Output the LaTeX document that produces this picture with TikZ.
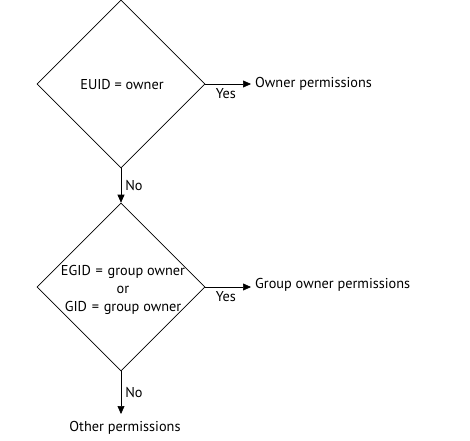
\documentclass[tikz,border=0pt]{standalone}
\usepackage{fontspec}
\setmainfont{PT Sans}
\usetikzlibrary{shapes.geometric,arrows.meta}
\begin{document}
\begin{tikzpicture}[x=1pt,y=1pt,
  decision/.style={draw,diamond,aspect=1,minimum width=168pt,minimum height=168pt,inner sep=0pt,line width=0.6pt},
  lbl/.style={font=\fontsize{14.3}{18}\selectfont,inner sep=1pt},
  conn/.style={line width=0.6pt,-{Triangle[length=8pt,width=7pt]}}]
\useasboundingbox (0,0) rectangle (470,440);
\node[decision] (d1) at (121,356) {};
\node[lbl] (t1) at (122,355) {EUID = owner};
\node[decision] (d2) at (121,153) {};
\node[lbl,align=center] (t2) at (123,150) {EGID\,\,=\,\,group owner\\or\\GID\,\,=\,\,group owner};
\node[lbl,anchor=west,inner sep=4pt] (owner) at (251,356) {Owner permissions};
\node[lbl,anchor=west,inner sep=4pt] (group) at (251,155) {Group owner permissions};
\node[lbl] (other) at (125,12) {Other permissions};
\coordinate (gtip) at (group.west |- d2.east);
\coordinate (otip) at (121,26);
\draw[conn] (d1.east) -- (owner.west) node[lbl,pos=0.45,below,inner sep=4pt] {Yes};
\draw[conn] (d2.east) -- (gtip) node[lbl,pos=0.45,below,inner sep=4pt] {Yes};
\draw[conn] (d1.south) -- (d2.north) node[lbl,midway,right,inner sep=4pt] {No};
\draw[conn] (d2.south) -- (otip) node[lbl,midway,right,inner sep=4pt] {No};
\end{tikzpicture}
\end{document}
